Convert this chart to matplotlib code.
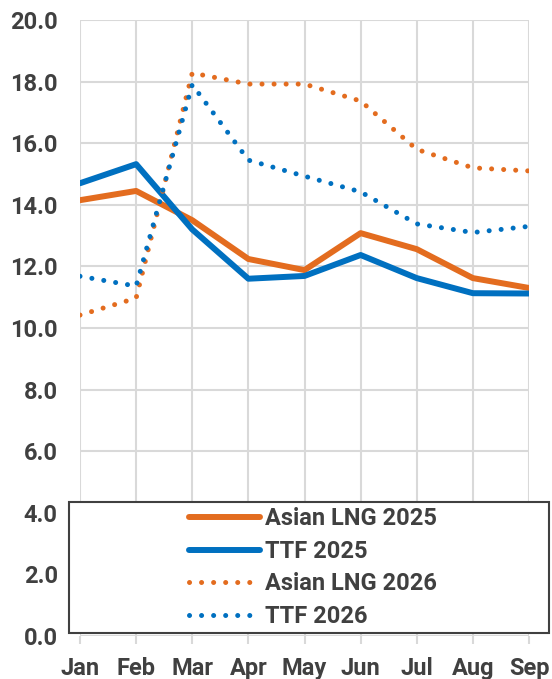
import matplotlib
matplotlib.use("Agg")
import matplotlib.pyplot as plt
from matplotlib.patches import Rectangle

plt.rcParams['font.family'] = ['Roboto', 'DejaVu Sans']
plt.rcParams['font.weight'] = 'bold'

months = ["Jan", "Feb", "Mar", "Apr", "May", "Jun", "Jul", "Aug", "Sep"]
asian_lng_2025 = [14.15, 14.45, 13.5, 12.24, 11.88, 13.08, 12.56, 11.62, 11.3]
ttf_2025 = [14.7, 15.32, 13.2, 11.6, 11.69, 12.37, 11.62, 11.13, 11.12]
asian_lng_2026 = [10.42, 10.97, 18.28, 17.92, 17.92, 17.37, 15.8, 15.2, 15.1]
ttf_2026 = [11.68, 11.36, 17.9, 15.45, 14.93, 14.42, 13.38, 13.1, 13.3]

orange = "#E36C1F"
blue = "#0070C0"
grey = "#D9D9D9"
text_col = "#404040"

fig = plt.figure(figsize=(5.52, 6.79), dpi=100)
ax = fig.add_axes([80/552, 1-636/679, 449/552, 616/679])

x = list(range(len(months)))
dot = (0, (0.01, 2.4))
ax.plot(x, asian_lng_2025, color=orange, lw=4.3, solid_capstyle='round', label="Asian LNG 2025", zorder=3)
ax.plot(x, ttf_2025, color=blue, lw=4.3, solid_capstyle='round', label="TTF 2025", zorder=3)
ax.plot(x, asian_lng_2026, color=orange, lw=3.6, ls=dot, dash_capstyle='round', label="Asian LNG 2026", zorder=3)
ax.plot(x, ttf_2026, color=blue, lw=3.6, ls=dot, dash_capstyle='round', label="TTF 2026", zorder=3)

ax.set_xlim(0, len(months)-1)
ax.set_ylim(0, 20)
ax.set_yticks(range(0, 21, 2))
ax.set_yticklabels([f"{v:.1f}" for v in range(0, 21, 2)])
ax.set_xticks(x)
ax.set_xticklabels(months)
ax.grid(True, color=grey, lw=1.5, zorder=0)
ax.set_axisbelow(True)
for s in ax.spines.values():
    s.set_visible(False)
ax.tick_params(axis='y', length=0, pad=16, labelsize=17, labelcolor=text_col)
ax.tick_params(axis='x', length=6, width=1.5, color=grey, pad=9, labelsize=17, labelcolor=text_col)

# legend box
box = Rectangle((-0.0245, 0.0049), 1.069, 0.2127, transform=ax.transAxes,
                facecolor='white', edgecolor=text_col, lw=1.5, clip_on=False, zorder=5)
ax.add_patch(box)
leg = ax.legend(loc='center', bbox_to_anchor=(0.519, 0.111), frameon=False,
                fontsize=17, handlelength=3.0, handletextpad=0.25, labelspacing=0.41,
                borderpad=0)
leg.set_zorder(6)
for t in leg.get_texts():
    t.set_color(text_col)

fig.savefig("out.png", dpi=100)
